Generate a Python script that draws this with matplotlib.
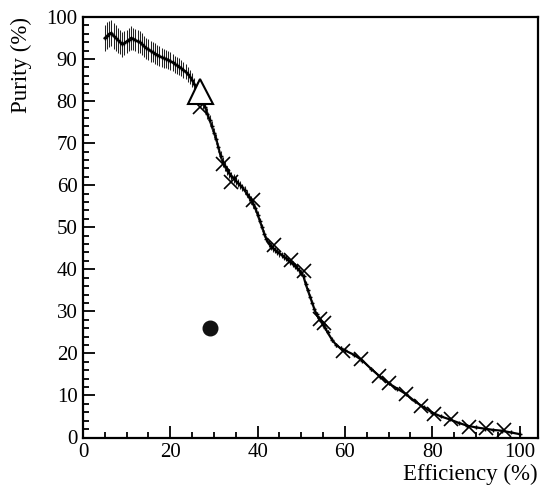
import matplotlib
matplotlib.use("Agg")
import matplotlib.pyplot as plt
from matplotlib.ticker import MultipleLocator

plt.rcParams['font.family'] = ['Liberation Serif', 'DejaVu Serif']

# Purity vs efficiency curve (dense points with errors)
eff = [5.0, 5.5, 6.0, 6.5, 7.0, 7.5, 8.0, 8.5, 9.0, 9.5, 10, 10.5, 11, 11.5, 12, 12.5,
       13, 13.5, 14, 14.5, 15, 15.5, 16, 16.5, 17, 17.5, 18, 18.5, 19, 19.5, 20, 20.5,
       21, 21.5, 22, 22.5, 23, 23.5, 24, 24.5, 25, 25.5, 26, 26.5, 27, 27.5, 28, 28.5,
       29, 29.5, 30, 30.5, 31, 31.5, 32, 32.5, 33, 33.5, 34, 34.5, 35, 35.5, 36, 36.5,
       37, 37.5, 38, 38.5, 39, 39.5, 40, 40.5, 41, 41.5, 42, 42.5, 43, 43.5, 44, 44.5,
       45, 45.5, 46, 46.5, 47, 47.5, 48, 48.5, 49, 49.5, 50, 50.5, 51, 51.5, 52, 52.5,
       53, 53.5, 54, 54.5, 55, 55.5, 56, 57, 58, 59, 60, 62, 64, 66, 68, 70, 72, 74,
       76, 78, 80, 82, 84, 86, 88, 90, 92, 94, 96, 98, 100]
pur = [95.0, 95.5, 96.0, 96.2, 95.5, 95.0, 94.5, 94.0, 93.5, 93.8, 94.2, 94.6, 95.0, 94.8, 94.5, 94.2,
       94.0, 93.5, 93.0, 92.6, 92.3, 91.9, 91.6, 91.3, 91.0, 90.7, 90.4, 90.2, 90.0, 89.8, 89.5, 89.2,
       88.8, 88.5, 88.2, 87.8, 87.4, 87.0, 86.4, 85.8, 85.0, 84.0, 83.0, 82.0, 80.5, 79.5, 78.5, 77.0,
       75.5, 74.0, 72.5, 71.0, 69.0, 67.0, 65.5, 64.5, 63.5, 62.8, 62.2, 61.6, 61.0, 60.5, 60.0, 59.5,
       58.8, 58.0, 57.2, 56.5, 55.5, 54.5, 53.0, 51.5, 50.0, 48.5, 47.2, 46.2, 45.5, 45.0, 44.6, 44.2,
       43.8, 43.4, 43.0, 42.6, 42.2, 41.8, 41.3, 40.8, 40.3, 39.8, 39.2, 38.3, 36.5, 35.0, 33.5, 32.0,
       30.5, 29.3, 28.3, 27.6, 26.8, 26.0, 25.0, 23.3, 22.0, 21.2, 20.7, 19.7, 18.3, 16.3, 14.5, 12.9, 11.6, 10.3,
       8.6, 7.2, 5.9, 5.0, 4.3, 3.5, 2.8, 2.4, 2.1, 1.8, 1.6, 1.2, 0.8]
pur_err = [3.2, 3.2, 3.1, 3.1, 3.0, 3.0, 3.0, 2.9, 2.9, 2.9, 2.8, 2.8, 2.8, 2.7, 2.7, 2.7,
           2.6, 2.6, 2.6, 2.5, 2.5, 2.5, 2.4, 2.4, 2.4, 2.3, 2.3, 2.3, 2.2, 2.2, 2.1, 2.1,
           2.0, 2.0, 2.0, 1.9, 1.9, 1.8, 1.8, 1.7, 1.7, 1.6, 1.6, 1.5, 1.5, 1.4, 1.4, 1.3,
           1.3, 1.2, 1.2, 1.2, 1.1, 1.1, 1.1, 1.1, 1.0, 1.0, 1.0, 1.0, 1.0, 1.0, 1.0, 0.9,
           0.9, 0.9, 0.9, 0.9, 0.9, 0.9, 0.9, 0.8, 0.8, 0.8, 0.8, 0.8, 0.8, 0.8, 0.8, 0.8,
           0.8, 0.8, 0.7, 0.7, 0.7, 0.7, 0.7, 0.7, 0.7, 0.7, 0.7, 0.6, 0.6, 0.6, 0.6, 0.6,
           0.6, 0.6, 0.6, 0.6, 0.6, 0.5, 0.5, 0.5, 0.5, 0.5, 0.5, 0.4, 0.4, 0.4, 0.4, 0.3, 0.3, 0.3,
           0.3, 0.3, 0.2, 0.2, 0.2, 0.2, 0.2, 0.2, 0.2, 0.1, 0.1, 0.1, 0.1]

# Highlighted working points (x markers)
mark_eff = [26.9, 32.0, 34.0, 39.0, 43.8, 47.7, 50.5, 54.3, 55.3, 59.6, 63.7, 67.8, 70.1,
            74.0, 77.4, 80.4, 84.2, 88.4, 92.2, 96.3]
mark_pur = [78.5, 65.0, 60.8, 56.5, 45.7, 42.3, 39.7, 28.2, 27.3, 20.6, 18.7, 14.6, 12.9,
            10.3, 7.4, 5.7, 4.3, 2.6, 2.2, 1.7]

# Single reference points
tri_eff, tri_pur = [26.7], [82.5]
dot_eff, dot_pur = [29.0], [26.1]

fig = plt.figure(figsize=(5.40, 4.93), dpi=100)
ax = fig.add_axes([83/540, 1-437.5/493, (538-83)/540, (437.5-17)/493])

ax.plot(eff, pur, color='black', lw=1.6, zorder=2)
ax.errorbar(eff, pur, yerr=pur_err, fmt='+', ms=3, color='black', ecolor='#222222',
            elinewidth=0.75, capsize=0, zorder=3)
ax.plot(mark_eff, mark_pur, linestyle='none', marker='x', ms=10, mew=1.2,
        color='black', zorder=4)
ax.plot(tri_eff, tri_pur, linestyle='none', marker='^', ms=18, mew=1.5,
        markerfacecolor='white', markeredgecolor='black', zorder=5)
ax.plot(dot_eff, dot_pur, linestyle='none', marker='o', ms=10.5,
        color='#111111', zorder=5)

ax.set_xlim(0, 104.2)
ax.set_ylim(0, 100)
ax.xaxis.set_major_locator(MultipleLocator(20))
ax.xaxis.set_minor_locator(MultipleLocator(5))
ax.yaxis.set_major_locator(MultipleLocator(10))
ax.yaxis.set_minor_locator(MultipleLocator(2))
ax.tick_params(which='both', direction='in', top=False, right=False, width=1.3,
               labelsize=15, colors='black')
ax.tick_params(which='major', length=8.5, pad=4)
ax.tick_params(which='minor', length=4.5)
for s in ax.spines.values():
    s.set_linewidth(1.6)

ax.set_xlabel('Efficiency (%)', fontsize=16.5, loc='right', labelpad=1)
ax.set_ylabel('Purity (%)', fontsize=16.5, loc='top', labelpad=10)

fig.savefig('out.png', dpi=100)
